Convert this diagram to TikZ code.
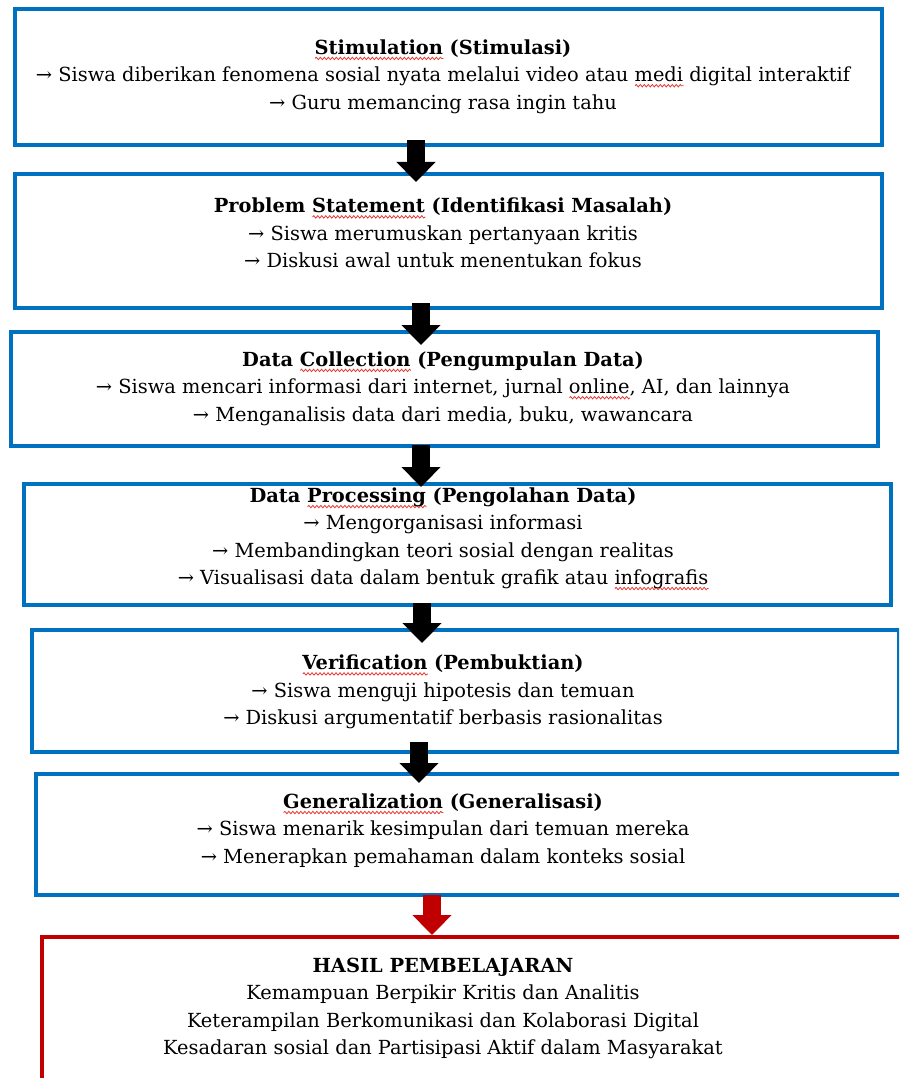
\documentclass[tikz,border=0pt]{standalone}
\usepackage{fontspec}
\setmainfont{DejaVu Serif}
\usetikzlibrary{arrows.meta,decorations.pathmorphing}
\definecolor{Frame}{HTML}{0070C0}
\definecolor{Outcome}{HTML}{C00000}
\definecolor{Squiggle}{HTML}{E53935}
\newsavebox{\typobox}
\newcommand{\typo}[1]{\sbox{\typobox}{#1}\rlap{\tikz[x=1pt, y=1pt, baseline=0pt]
  \draw[Squiggle, line width=0.8pt, decorate, decoration={snake, amplitude=1.2pt, segment length=4pt}]
  (0,-4) -- (\the\wd\typobox,-4);}\usebox{\typobox}}

\begin{document}
\begin{tikzpicture}[
    x=1pt, y=-1pt,
    phase/.style={draw=Frame, line width=4pt, outer sep=0pt, minimum width=867pt, inner sep=0pt},
    result/.style={phase, draw=Outcome},
    note/.style={align=center, inner sep=0pt, font=\fontsize{19.4}{27.3}\selectfont},
    flow/.style={-{Triangle[width=38pt, length=20pt]}, line width=18pt, draw=black},
    redflow/.style={flow, draw=Outcome}
  ]
    \path[use as bounding box, clip] (0,0) rectangle (899,1078);

    \node[phase, minimum height=136pt] (stim) at (448.5,77) {};
    \node[phase, minimum height=134pt] (prob) at (448.5,241) {};
    \node[phase, minimum height=114pt] (coll) at (444.5,389) {};
    \node[phase, minimum height=121pt] (proc) at (457.5,544.5) {};
    \node[phase, minimum height=122pt] (veri) at (465.5,691) {};
    \node[phase, minimum height=121pt] (gene) at (469.5,834.5) {};
    \node[result, minimum height=160pt] (hasil) at (475.5,1017) {};

    \node[note] (stimtext) at (443,76.5) {\textbf{\typo{Stimulation} (Stimulasi)}\\
      → Siswa diberikan fenomena sosial nyata melalui video atau \typo{medi} digital interaktif\\
      → Guru memancing rasa ingin tahu};
    \node[note] (probtext) at (443,233) {\textbf{Problem \typo{Statement} (Identifikasi Masalah)}\\
      → Siswa merumuskan pertanyaan kritis\\
      → Diskusi awal untuk menentukan fokus};
    \node[note] (colltext) at (443,388.5) {\textbf{Data \typo{Collection} (Pengumpulan Data)}\\
      → Siswa mencari informasi dari internet, jurnal \typo{online}, AI, dan lainnya\\
      → Menganalisis data dari media, buku, wawancara};
    \node[note] (proctext) at (443,539) {\textbf{Data \typo{Processing} (Pengolahan Data)}\\
      → Mengorganisasi informasi\\
      → Membandingkan teori sosial dengan realitas\\
      → Visualisasi data dalam bentuk grafik atau \typo{infografis}};
    \node[note] (veritext) at (443,692) {\textbf{\typo{Verification} (Pembuktian)}\\
      → Siswa menguji hipotesis dan temuan\\
      → Diskusi argumentatif berbasis rasionalitas};
    \node[note] (genetext) at (443,830.5) {\textbf{\typo{Generalization} (Generalisasi)}\\
      → Siswa menarik kesimpulan dari temuan mereka\\
      → Menerapkan pemahaman dalam konteks sosial};
    \node[note] (hasiltext) at (443,1008.5) {\textbf{HASIL PEMBELAJARAN}\\
      Kemampuan Berpikir Kritis dan Analitis\\
      Keterampilan Berkomunikasi dan Kolaborasi Digital\\
      Kesadaran sosial dan Partisipasi Aktif dalam Masyarakat};

    \draw[flow] ([xshift=-32.5pt, yshift=5pt]stim.south) -- ([xshift=-32.5pt, yshift=-8pt]prob.north);
    \draw[flow] ([xshift=-27.5pt, yshift=5pt]prob.south) -- ([xshift=-23.5pt, yshift=-13pt]coll.north);
    \draw[flow] ([xshift=-23.5pt, yshift=1pt]coll.south) -- ([xshift=-36.5pt, yshift=-3pt]proc.north);
    \draw[flow] ([xshift=-35.5pt, yshift=2pt]proc.south) -- ([xshift=-43.5pt, yshift=-13pt]veri.north);
    \draw[flow] ([xshift=-46.5pt, yshift=10pt]veri.south) -- ([xshift=-50.5pt, yshift=-9pt]gene.north);
    \draw[redflow] ([xshift=-37.5pt]gene.south) -- ([xshift=-43.5pt, yshift=2pt]hasil.north);
  \end{tikzpicture}
\end{document}
